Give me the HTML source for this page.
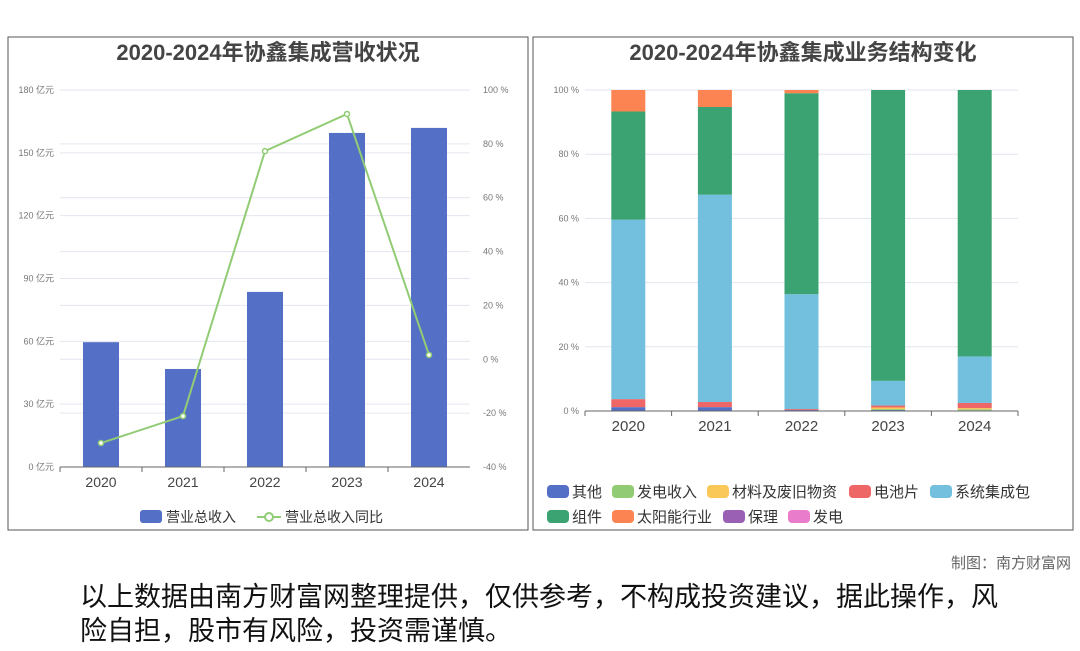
<!DOCTYPE html>
<html><head><meta charset="utf-8"><style>
body{margin:0;background:#fff;width:1080px;height:646px;overflow:hidden;font-family:"Liberation Sans","Noto Sans CJK SC",sans-serif;}
svg text{font-family:"Liberation Sans","Noto Sans CJK SC",sans-serif;}
</style></head><body>
<svg id="s" width="1080" height="646" xmlns="http://www.w3.org/2000/svg">
<rect x="8" y="37" width="520" height="493" fill="none" stroke="#555" stroke-width="1"/>
<rect x="533" y="37" width="540" height="493" fill="none" stroke="#555" stroke-width="1"/>
<text x="268" y="60" text-anchor="middle" font-size="22" font-weight="bold" fill="#444">2020-2024年协鑫集成营收状况</text>
<text x="803" y="60" text-anchor="middle" font-size="22" font-weight="bold" fill="#444">2020-2024年协鑫集成业务结构变化</text>
<g id="left"></g><g id="right"></g>
<text x="1071" y="568" text-anchor="end" font-size="15" fill="#666">制图：南方财富网</text>
<text x="80" y="606" font-size="27" fill="#111">以上数据由南方财富网整理提供，仅供参考，不构成投资建议，据此操作，风</text>
<text x="80" y="640" font-size="27" fill="#111">险自担，股市有风险，投资需谨慎。</text>
</svg>
<script>
const years=["2020","2021","2022","2023","2024"];
const revenue=[59.6,46.8,83.6,159.5,161.9];
const growth=[-31.1,-21.1,77.3,91.1,1.6];
const yTicksL=[0,30,60,90,120,150,180];
const yTicksR=[-40,-20,0,20,40,60,80,100];
const seriesNames=["其他","发电收入","材料及废旧物资","电池片","系统集成包","组件","太阳能行业","保理","发电"];
const seriesColors=["#5470c6","#91cc75","#fac858","#ee6666","#73c0de","#3ba272","#fc8452","#9a60b4","#ea7ccc"];
const s0=[1.2,1.2,0.3,0.3,0.2];
const s1=[0,0,0,0.3,0.3];
const s2=[0,0,0,0.5,0.4];
const s3=[2.5,1.6,0.3,0.6,1.6];
const s4=[55.9,64.6,35.8,7.7,14.5];
const s5=[33.7,27.3,62.6,90.6,83.0];
const s6=[6.7,5.3,1.0,0,0];
const s7=[0,0,0,0,0];
const s8=[0,0,0,0,0];
const pctTicks=[0,20,40,60,80,100];
const NS="http://www.w3.org/2000/svg";
function mk(p,t,a,txt){const e=document.createElementNS(NS,t);for(const k in a)e.setAttribute(k,a[k]);if(txt!==undefined)e.textContent=txt;p.appendChild(e);return e;}
// left chart
const L=document.getElementById('left');
const lx0=60,lx1=470,ly0=467,ly1=90;
const yL=v=>ly0-(v/180)*(ly0-ly1);
const yR=v=>ly0-((v+40)/140)*(ly0-ly1);
const bw=(lx1-lx0)/years.length;
const xc=i=>lx0+bw*(i+0.5);
yTicksL.forEach(t=>{let g=mk(L,'line',{x1:lx0,x2:lx1,y1:yL(t),y2:yL(t),stroke:'#e3e6f0'});
let tx=mk(L,'text',{x:lx0-6,y:yL(t)+3,'text-anchor':'end','font-size':9,fill:'#777'},t+' 亿元');});
yTicksR.forEach(t=>{let g=mk(L,'line',{x1:lx0,x2:lx1,y1:yR(t),y2:yR(t),stroke:'#e3e6f0'});
let tx=mk(L,'text',{x:lx1+13,y:yR(t)+3,'font-size':9,fill:'#777'},t+' %');});
revenue.forEach((v,i)=>{let r=mk(L,'rect',{x:xc(i)-18,y:yL(v),width:36,height:ly0-yL(v),fill:'#5470c6'});});
let ax=mk(L,'line',{x1:lx0,x2:lx1,y1:ly0,y2:ly0,stroke:'#666'});
years.forEach((y,i)=>{for(const xx of [lx0+bw*i]){let t=mk(L,'line',{x1:xx,x2:xx,y1:ly0,y2:ly0+5,stroke:'#666'});}
let tx=mk(L,'text',{x:xc(i),y:487,'text-anchor':'middle','font-size':14,fill:'#444'},y);});
let pl=mk(L,'polyline',{points:growth.map((v,i)=>xc(i)+','+yR(v)).join(' '),fill:'none',stroke:'#91cc75','stroke-width':2});
growth.forEach((v,i)=>{let c=mk(L,'circle',{cx:xc(i),cy:yR(v),r:2.5,fill:'#fff',stroke:'#91cc75','stroke-width':1.5});});
let lg1=mk(L,'rect',{x:140,y:510,width:22,height:13,rx:3,fill:'#5470c6'});
let lt1=mk(L,'text',{x:166,y:522,'font-size':14,fill:'#333'},'营业总收入');
let ll=mk(L,'line',{x1:257,x2:281,y1:517,y2:517,stroke:'#91cc75','stroke-width':2});
let lc=mk(L,'circle',{cx:269,cy:517,r:4,fill:'#fff',stroke:'#91cc75','stroke-width':2});
let lt2=mk(L,'text',{x:285,y:522,'font-size':14,fill:'#333'},'营业总收入同比');
// right chart
const R=document.getElementById('right');
const rx0=585,rx1=1018,ry0=411,ry1=90;
const yP=v=>ry0-(v/100)*(ry0-ry1);
const rbw=(rx1-rx0)/years.length;
const rxc=i=>rx0+rbw*(i+0.5);
pctTicks.forEach(t=>{let g=mk(R,'line',{x1:rx0,x2:rx1,y1:yP(t),y2:yP(t),stroke:'#e3e6f0'});
let tx=mk(R,'text',{x:rx0-6,y:yP(t)+3,'text-anchor':'end','font-size':9,fill:'#777'},t+' %');});
const series=[s0,s1,s2,s3,s4,s5,s6,s7,s8];
years.forEach((y,i)=>{let tot=series.reduce((a,s)=>a+s[i],0);let acc=0;
series.forEach((s,k)=>{if(s[i]<=0)return;const v=s[i]/tot*100;let r=mk(R,'rect',{x:rxc(i)-17,y:yP(acc+v),width:34,height:yP(acc)-yP(acc+v),fill:seriesColors[k]});
acc+=v;});});
let rax=mk(R,'line',{x1:rx0,x2:rx1,y1:ry0,y2:ry0,stroke:'#666'});
years.forEach((y,i)=>{let t=mk(R,'line',{x1:rx0+rbw*i,x2:rx0+rbw*i,y1:ry0,y2:ry0+5,stroke:'#666'});
let tx=mk(R,'text',{x:rxc(i),y:431,'text-anchor':'middle','font-size':15,fill:'#444'},y);});
let te=mk(R,'line',{x1:rx1,x2:rx1,y1:ry0,y2:ry0+5,stroke:'#666'});
const legX=[547,612,707,849,930,547,612,723,788];
seriesNames.forEach((n,k)=>{const yy=k<5?492:517;
let sw=mk(R,'rect',{x:legX[k],y:yy-7,width:22,height:13,rx:4,fill:seriesColors[k]});
let t=mk(R,'text',{x:legX[k]+25,y:yy+5,'font-size':15,fill:'#333'},n);});
</script>
</body></html>
